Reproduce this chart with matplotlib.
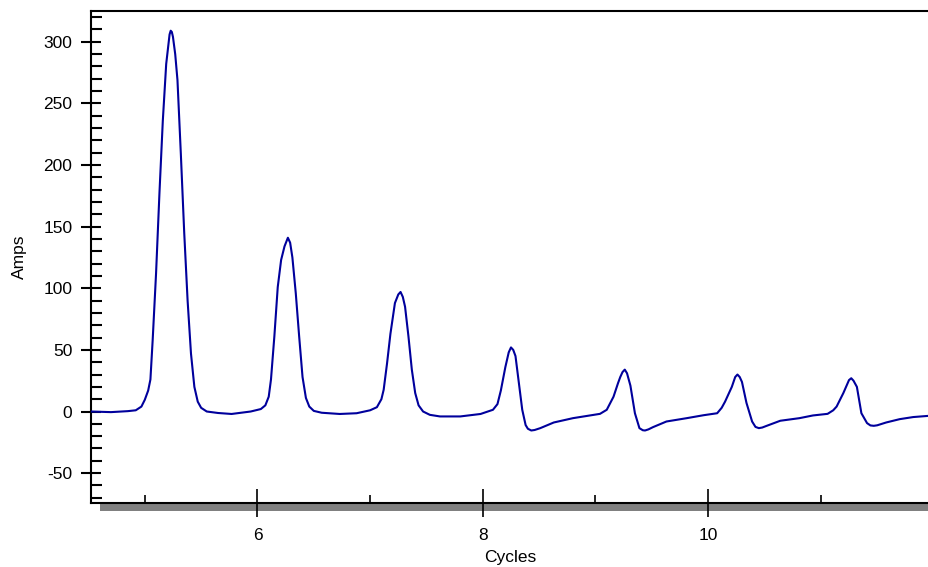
import matplotlib
matplotlib.use('Agg')
import matplotlib.pyplot as plt
from matplotlib.patches import Rectangle
from matplotlib.ticker import MultipleLocator

# values
cycles = [4.52, 4.70, 4.85, 4.92, 4.97, 5.00, 5.03, 5.05, 5.07, 5.10, 5.13, 5.16,
          5.19, 5.21, 5.22, 5.23, 5.24, 5.25, 5.27, 5.29, 5.32, 5.35, 5.38, 5.41,
          5.44, 5.47, 5.50, 5.55, 5.65, 5.77, 5.94, 6.03, 6.07, 6.10, 6.12, 6.15,
          6.18, 6.21, 6.24, 6.27, 6.29, 6.31, 6.34, 6.37, 6.40, 6.43, 6.46, 6.50,
          6.57, 6.73, 6.88, 7.00, 7.06, 7.10, 7.12, 7.15, 7.18, 7.22, 7.25, 7.27,
          7.29, 7.31, 7.34, 7.37, 7.40, 7.43, 7.47, 7.53, 7.62, 7.80, 7.98, 8.09,
          8.13, 8.16, 8.20, 8.23, 8.25, 8.27, 8.29, 8.32, 8.35, 8.38, 8.40, 8.43,
          8.46, 8.51, 8.63, 8.80, 9.04, 9.10, 9.16, 9.20, 9.22, 9.24, 9.26, 9.28,
          9.31, 9.35, 9.39, 9.42, 9.44, 9.47, 9.51, 9.63, 9.81, 9.96, 10.08,
          10.12, 10.15, 10.21, 10.24, 10.26, 10.28, 10.30, 10.34, 10.39, 10.42,
          10.45, 10.48, 10.52, 10.64, 10.81, 10.93, 11.06, 11.11, 11.14, 11.20,
          11.25, 11.27, 11.29, 11.32, 11.36, 11.41, 11.44, 11.47, 11.50, 11.58,
          11.70, 11.82, 11.96]
amps = [0, -0.5, 0.3, 1, 4, 9.5, 17, 26, 58, 112, 177, 236,
        282, 298, 306, 309, 308, 304, 290, 269, 209, 145, 90, 47,
        20, 8, 3, 0, -1.2, -2, 0, 2, 5, 12, 26, 61,
        101, 123, 134, 141, 137, 125, 96, 61, 28, 11, 4, 0.5,
        -1, -2, -1.4, 1, 3.5, 10, 17.6, 39, 63, 88, 95, 97,
        93, 85, 61, 34, 15, 5, 0, -2.7, -4, -4, -2, 1.4,
        6, 17, 36, 48, 52, 50, 45, 23, 1.4, -11, -14, -15.4,
        -15, -13.5, -8.9, -5.4, -1.9, 1.4, 12, 23, 28, 32, 34, 31,
        21, -1.4, -13.5, -15.2, -15.4, -14.5, -12.7, -8.1, -5.4, -3, -1.4,
        3, 8, 20, 28, 30, 28, 24, 7, -8.1, -12.5,
        -13.5, -13, -11.6, -7.5, -5.4, -3.2, -1.9, 1, 4, 15,
        25.5, 27, 25, 20, -1.4, -9.4, -11.3, -11.6, -11.2, -8.9,
        -6.2, -4.5, -3.5]

plt.rcParams['font.family'] = ['Liberation Sans', 'DejaVu Sans']
plt.rcParams['axes.unicode_minus'] = False

fig = plt.figure(figsize=(9.29, 5.67), dpi=100)
ax = fig.add_axes([0.098, 0.1134, 0.902, 0.8672])

ax.plot(cycles, amps, color='#00009C', lw=1.5, zorder=3,
        solid_joinstyle='round')

ax.set_xlim(4.523, 11.96)
ax.set_ylim(-74, 325)

ax.xaxis.set_major_locator(MultipleLocator(2))
ax.xaxis.set_minor_locator(MultipleLocator(1))
ax.yaxis.set_major_locator(MultipleLocator(50))
ax.yaxis.set_minor_locator(MultipleLocator(10))

ax.spines['right'].set_visible(False)
for s in ['left', 'bottom', 'top']:
    ax.spines[s].set_linewidth(1.5)

ax.tick_params(axis='y', which='major', direction='inout', length=15, width=1.5,
               pad=6, labelsize=12.5)
ax.tick_params(axis='y', which='minor', direction='in', length=8, width=1.5)
ax.tick_params(axis='x', which='major', direction='inout', length=20, width=1.2,
               pad=8, labelsize=12.5)
ax.tick_params(axis='x', which='minor', direction='in', length=6, width=1.2)

ax.set_xlabel('Cycles', fontsize=12.5, labelpad=5)
ax.set_ylabel('Amps', fontsize=12.5, labelpad=12)

# gray shadow under the x axis
shadow = Rectangle((0.0107, -0.0175), 0.99, 0.0175, transform=ax.transAxes,
                   facecolor='#808080', edgecolor='none', clip_on=False, zorder=1)
ax.add_patch(shadow)

fig.savefig('out.png', dpi=100)
